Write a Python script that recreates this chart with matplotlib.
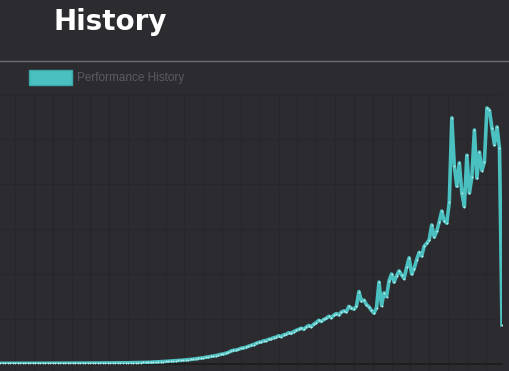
import numpy as np
import matplotlib
matplotlib.use("Agg")
from matplotlib import pyplot as plt
from matplotlib.patches import Rectangle

# performance history values (one per run)
history = [
    1.4, 1.4, 1.5, 1.4, 1.4, 1.5, 1.5, 1.4, 1.5, 1.5,
    1.5, 1.6, 1.5, 1.5, 1.6, 1.6, 1.5, 1.6, 1.6, 1.7,
    1.6, 1.7, 1.7, 1.6, 1.7, 1.8, 1.7, 1.8, 1.8, 1.9,
    1.8, 1.9, 1.9, 2.0, 1.9, 2.0, 2.1, 2.0, 2.1, 2.2,
    2.1, 2.2, 2.3, 2.2, 2.3, 2.4, 2.4, 2.5, 2.6, 2.5,
    2.6, 2.7, 2.8, 2.7, 2.9, 3.0, 3.3, 3.4, 3.5, 3.7,
    4.0, 4.3, 4.5, 4.8, 5.1, 5.3, 5.7, 6.1, 6.7, 7.0,
    7.4, 7.8, 8.1, 8.7, 9.1, 9.6, 10.2, 10.9, 11.6, 12.3,
    12.9, 13.8, 15.0, 15.8, 16.9, 17.8, 18.6, 20.1, 21.5, 22.3,
    24.0, 25.6, 28.9, 30.4, 31.0, 32.5, 34.8, 36.1, 37.0, 39.5,
    41.3, 43.0, 45.6, 47.8, 49.0, 51.5, 52.2, 54.7, 56.0, 58.4,
    59.5, 62.8, 61.0, 64.7, 66.0, 69.5, 68.2, 72.0, 74.6, 77.0,
    79.5, 77.2, 82.0, 85.5, 83.0, 88.4, 92.0, 97.0, 94.5, 99.0,
    101.5, 106.0, 103.0, 108.5, 112.0, 109.0, 115.5, 118.0, 116.0, 128.0,
    124.0, 122.0, 128.0, 161.0, 140.0, 142.0, 132.0, 127.0, 119.0, 113.0,
    125.0, 182.0, 130.0, 158.0, 150.0, 185.0, 200.0, 182.0, 196.0, 207.0,
    198.0, 190.0, 215.0, 236.0, 200.0, 212.0, 232.0, 248.0, 240.0, 262.0,
    268.0, 276.0, 309.0, 282.0, 295.0, 316.0, 340.0, 318.0, 313.0, 360.0,
    547.0, 440.0, 395.0, 447.0, 380.0, 350.0, 464.0, 380.0, 415.0, 520.0,
    413.0, 471.0, 430.0, 449.0, 569.0, 564.0, 524.0, 487.0, 527.0, 480.0,
    87.0,
]
series_label = "Performance History"
title = "History"

BG = "#2c2c30"
GRID = "#27272b"
TEAL = "#4bc0c0"

fig = plt.figure(figsize=(5.09, 3.71), dpi=100, facecolor=BG)
W, H = 509, 371

ax = fig.add_axes([0 / W, (H - 364) / H, 502 / W, 270 / H], facecolor=BG)
x = np.arange(len(history))
ax.plot(x, history, color=TEAL, linewidth=2.6, solid_joinstyle="round", zorder=3)
ax.plot(x, history, linestyle="none", marker="o", markersize=1.4,
        markerfacecolor="#b8ecec", markeredgewidth=0, zorder=4)

ax.set_xlim(0, len(history) - 1)
ax.set_ylim(0, 600)
ax.set_xticks(np.arange(6, len(history), 7.5))
ax.set_yticks(np.arange(0, 601, 100))
ax.grid(True, color=GRID, linewidth=1)
ax.tick_params(axis="x", length=7, color=GRID, labelbottom=False)
ax.tick_params(axis="y", length=0, labelleft=False)
for side in ["top", "right", "left"]:
    ax.spines[side].set_visible(False)
ax.spines["bottom"].set_color("#1c1c1f")
ax.spines["bottom"].set_linewidth(1.2)

# header: title, separator and legend
fig.text(53 / W, 1 - 22 / H, title, color="white", fontsize=20,
         fontweight="bold", family="DejaVu Sans", va="center", ha="left")
fig.add_artist(plt.Line2D([0, 1], [1 - 61 / H, 1 - 61 / H],
                          transform=fig.transFigure, color="#6e6e72", linewidth=1))
fig.patches.append(Rectangle((29 / W, 1 - 85 / H), 43 / W, 15 / H,
                             transform=fig.transFigure, facecolor=TEAL,
                             edgecolor="#3aa8a8", linewidth=1))
fig.text(77 / W, 1 - 77.5 / H, series_label, color="#5c5c60", fontsize=8.5,
         family="Liberation Sans", va="center", ha="left")

fig.savefig("out.png", dpi=100, facecolor=BG)
